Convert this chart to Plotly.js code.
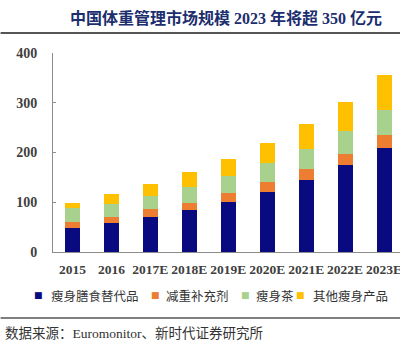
<!DOCTYPE html>
<html>
<head>
<meta charset="utf-8">
<script src="https://cdn.plot.ly/plotly-3.0.1.min.js"></script>
<style>html,body{margin:0;padding:0;background:#fff;}#chart{width:400px;height:352px;}</style>
</head>
<body>
<div id="chart"></div>
<script>
var years = ["2015", "2016", "2017E", "2018E", "2019E", "2020E", "2021E", "2022E", "2023E"];
var seriesNames = ["瘦身膳食替代品", "减重补充剂", "瘦身茶", "其他瘦身产品"];
var mealReplacement = [48, 59, 70, 84, 100, 121, 145, 175, 210];
var supplements = [13, 12, 16, 14, 18, 19, 22, 23, 25];
var slimmingTea = [27, 25, 27, 33, 35, 38, 41, 46, 50];
var otherProducts = [10, 20, 23, 29, 33, 41, 49, 57, 71];
var yTicks = [0, 100, 200, 300, 400];
var titleText = "中国体重管理市场规模 2023 年将超 350 亿元";
var sourceText = "数据来源：Euromonitor、新时代证券研究所";

var colors = ["#0a0a80", "#ED7D31", "#A9D18E", "#FFC000"];
var seriesValues = [mealReplacement, supplements, slimmingTea, otherProducts];

var traces = seriesValues.map(function (vals, i) {
  return {
    type: "bar",
    x: years,
    y: vals,
    name: seriesNames[i],
    marker: {color: colors[i]},
    hoverinfo: "x+y+name"
  };
});

var plotLeft = 52.5, plotWidth = 347.5;
var cjk = "Liberation Serif, 'Noto Sans CJK SC', serif";

// manual legend (positions in pixels relative to the plot's left edge)
var legendPos = [[38, 48], [155, 163], [245, 253], [300, 310]];
var annotations = [];
seriesNames.forEach(function (n, i) {
  annotations.push({
    xref: "paper", yref: "paper", x: 0, y: 0,
    xshift: legendPos[i][0] - plotLeft, yshift: -43,
    xanchor: "center", yanchor: "middle",
    text: "■", showarrow: false,
    font: {family: "DejaVu Sans", size: 9, color: colors[i]}
  });
  annotations.push({
    xref: "paper", yref: "paper", x: 0, y: 0,
    xshift: legendPos[i][1] - plotLeft, yshift: -43,
    xanchor: "left", yanchor: "middle",
    text: n, showarrow: false,
    font: {family: "'Noto Sans CJK SC'", size: 12.5, color: "#333"}
  });
});
annotations.push({
  xref: "paper", yref: "paper", x: 0, y: 0,
  xshift: 2 - plotLeft, yshift: -81,
  xanchor: "left", yanchor: "middle",
  text: sourceText, showarrow: false,
  font: {family: cjk, size: 13.5, color: "#333"}
});
annotations.push({
  xref: "paper", yref: "paper", x: 0, y: 1,
  xshift: 225 - plotLeft, yshift: 35,
  xanchor: "center", yanchor: "middle",
  text: "<b>" + titleText + "</b>", showarrow: false,
  font: {family: cjk, size: 16, color: "#1c2e6e"}
});

var layout = {
  width: 400, height: 352,
  margin: {l: 52.5, r: 0, t: 53, b: 100, pad: 0},
  paper_bgcolor: "#fff", plot_bgcolor: "#fff",
  barmode: "stack",
  bargap: 0.615,
  showlegend: false,
  xaxis: {
    type: "category",
    range: [-0.5, 8.41],
    showline: true, linecolor: "#8c8c8c", linewidth: 1,
    ticks: "", showgrid: false, zeroline: false,
    tickangle: 0,
    tickfont: {family: "Liberation Serif", size: 13.5, color: "#404040", weight: "bold"},
    ticklabelstandoff: 5
  },
  yaxis: {
    range: [0, 400],
    tickvals: yTicks,
    showline: true, linecolor: "#8c8c8c", linewidth: 1,
    ticks: "inside", ticklen: 3, tickcolor: "#8c8c8c",
    showgrid: false, zeroline: false,
    tickfont: {family: "Liberation Serif", size: 14, color: "#404040", weight: "bold"},
    ticklabelstandoff: 12
  },
  shapes: [
    {type: "line", xref: "paper", yref: "paper", x0: -plotLeft / plotWidth, x1: 1, y0: 1 + 20 / 199, y1: 1 + 20 / 199,
     line: {color: "#555", width: 2}},
    {type: "line", xref: "paper", yref: "paper", x0: -plotLeft / plotWidth, x1: 1, y0: -66 / 199, y1: -66 / 199,
     line: {color: "#555", width: 1.5}}
  ],
  annotations: annotations
};

Plotly.newPlot("chart", traces, layout, {staticPlot: true, displayModeBar: false});
</script>
</body>
</html>
